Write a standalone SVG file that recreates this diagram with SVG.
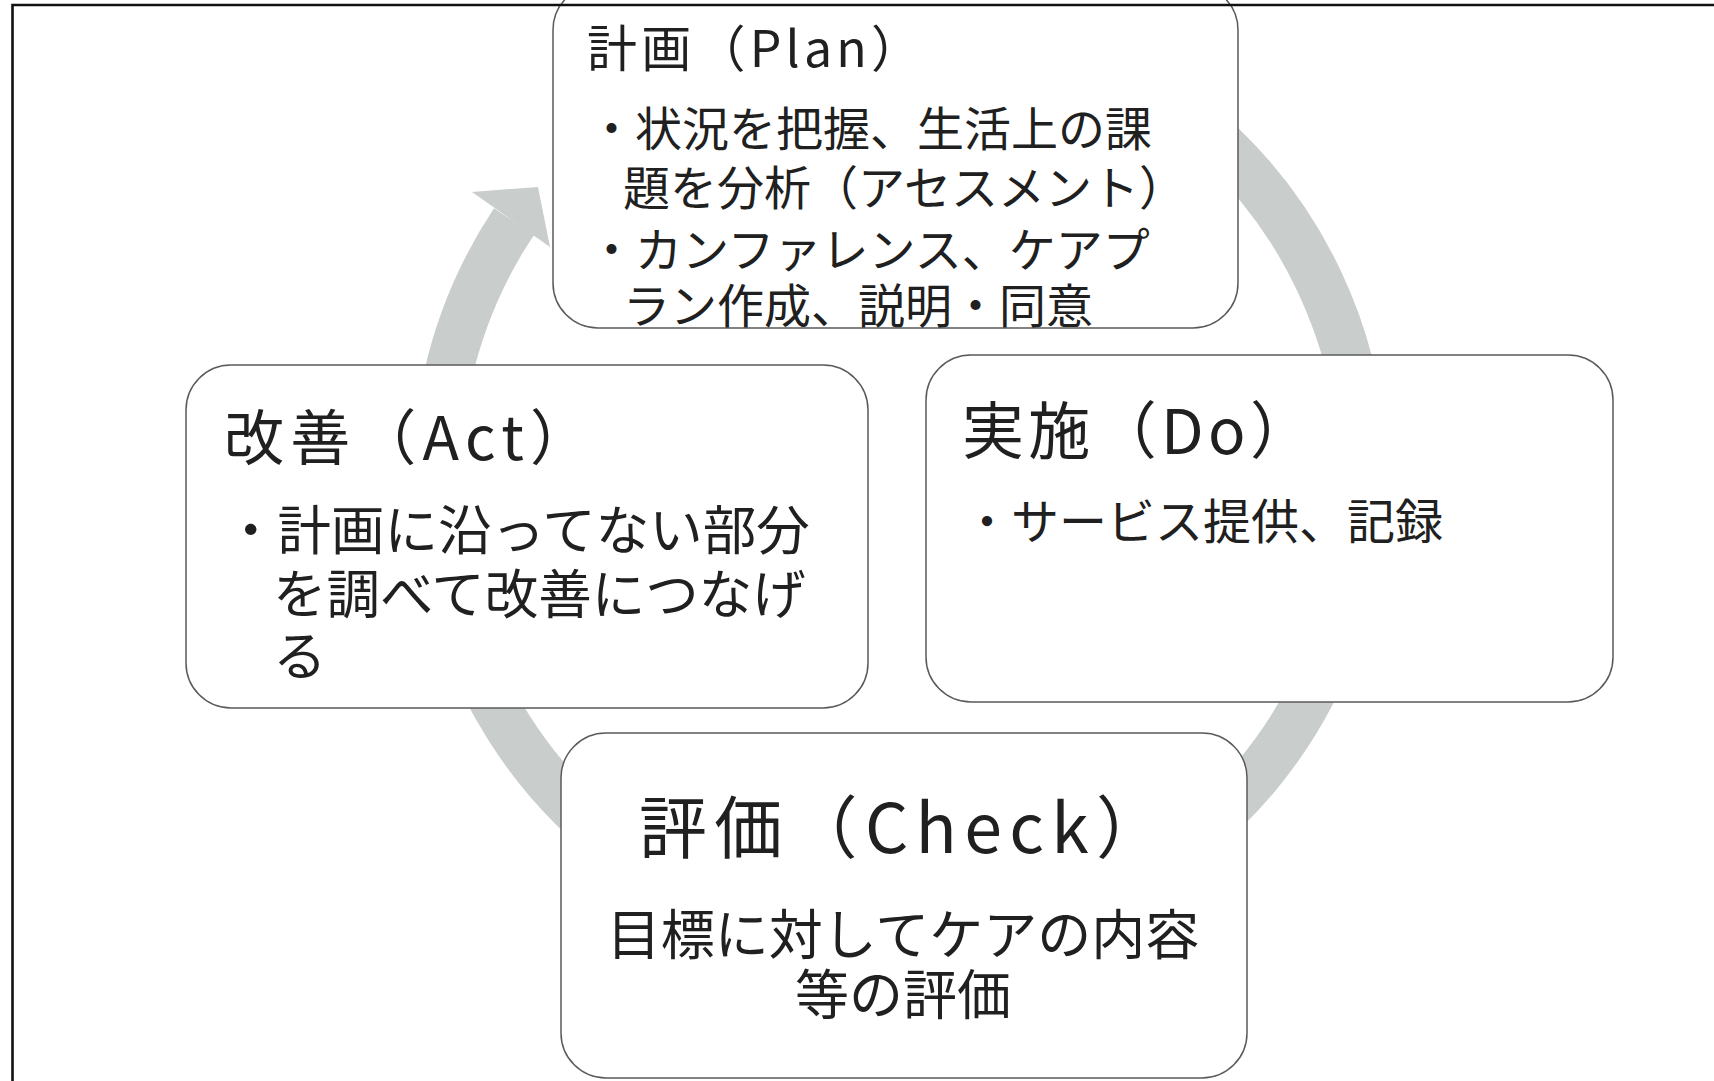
<svg xmlns="http://www.w3.org/2000/svg" width="1714" height="1081" viewBox="0 0 1714 1081">
<style>
.box{fill:#ffffff;stroke:#5a5a5a;stroke-width:1.5}
.t{font-family:"Noto Sans CJK JP","Noto Sans",sans-serif;fill:#202020}
.band{fill:none;stroke:#c9cdcc;stroke-width:48}
.head{fill:#c9cdcc}
.frame{fill:none;stroke:#111;stroke-width:2.6}
</style>
<rect x="0" y="0" width="1714" height="1081" fill="#ffffff"/>
<g id="connectors">
<path class="band" d="M 589.6 134.2 A 464 464 0 0 1 1255.4 777.3 A 464 464 0 0 1 514 221.6"/>
<polygon class="head" points="472,192 538,187 550,247"/>
</g>
<g id="node-plan">
<rect class="box" x="553" y="-15" width="685" height="343" rx="45" ry="45"/>
<text class="t" x="587" y="67" font-size="50" textLength="334" lengthAdjust="spacing">計画（Plan）</text>
<text class="t" x="588" y="146" font-size="47">・状況を把握、生活上の課</text>
<text class="t" x="623" y="205" font-size="47">題を分析（アセスメント）</text>
<text class="t" x="588" y="267" font-size="47">・カンファレンス、ケアプ</text>
<text class="t" x="623" y="323" font-size="47">ラン作成、説明・同意</text>
</g>
<g id="node-act">
<rect class="box" x="186" y="365" width="682" height="343" rx="45" ry="45"/>
<text class="t" x="224" y="460" font-size="60" textLength="366" lengthAdjust="spacing">改善（Act）</text>
<text class="t" x="224" y="550" font-size="53.5">・計画に沿ってない部分</text>
<text class="t" x="273" y="614" font-size="53.5">を調べて改善につなげ</text>
<text class="t" x="273" y="676" font-size="53.5">る</text>
</g>
<g id="node-do">
<rect class="box" x="926" y="355" width="687" height="347" rx="45" ry="45"/>
<text class="t" x="962" y="454" font-size="62" textLength="350" lengthAdjust="spacing">実施（Do）</text>
<text class="t" x="963" y="539" font-size="48">・サービス提供、記録</text>
</g>
<g id="node-check">
<rect class="box" x="561" y="733" width="686" height="345" rx="45" ry="45"/>
<text class="t" x="639" y="853" font-size="68" textLength="525" lengthAdjust="spacing">評価（Check）</text>
<text class="t" x="903" y="955" font-size="54" text-anchor="middle">目標に対してケアの内容</text>
<text class="t" x="903" y="1015" font-size="54" text-anchor="middle">等の評価</text>
</g>
<path class="frame" d="M 12.5 1081 L 12.5 5 L 1714 5"/>
</svg>
